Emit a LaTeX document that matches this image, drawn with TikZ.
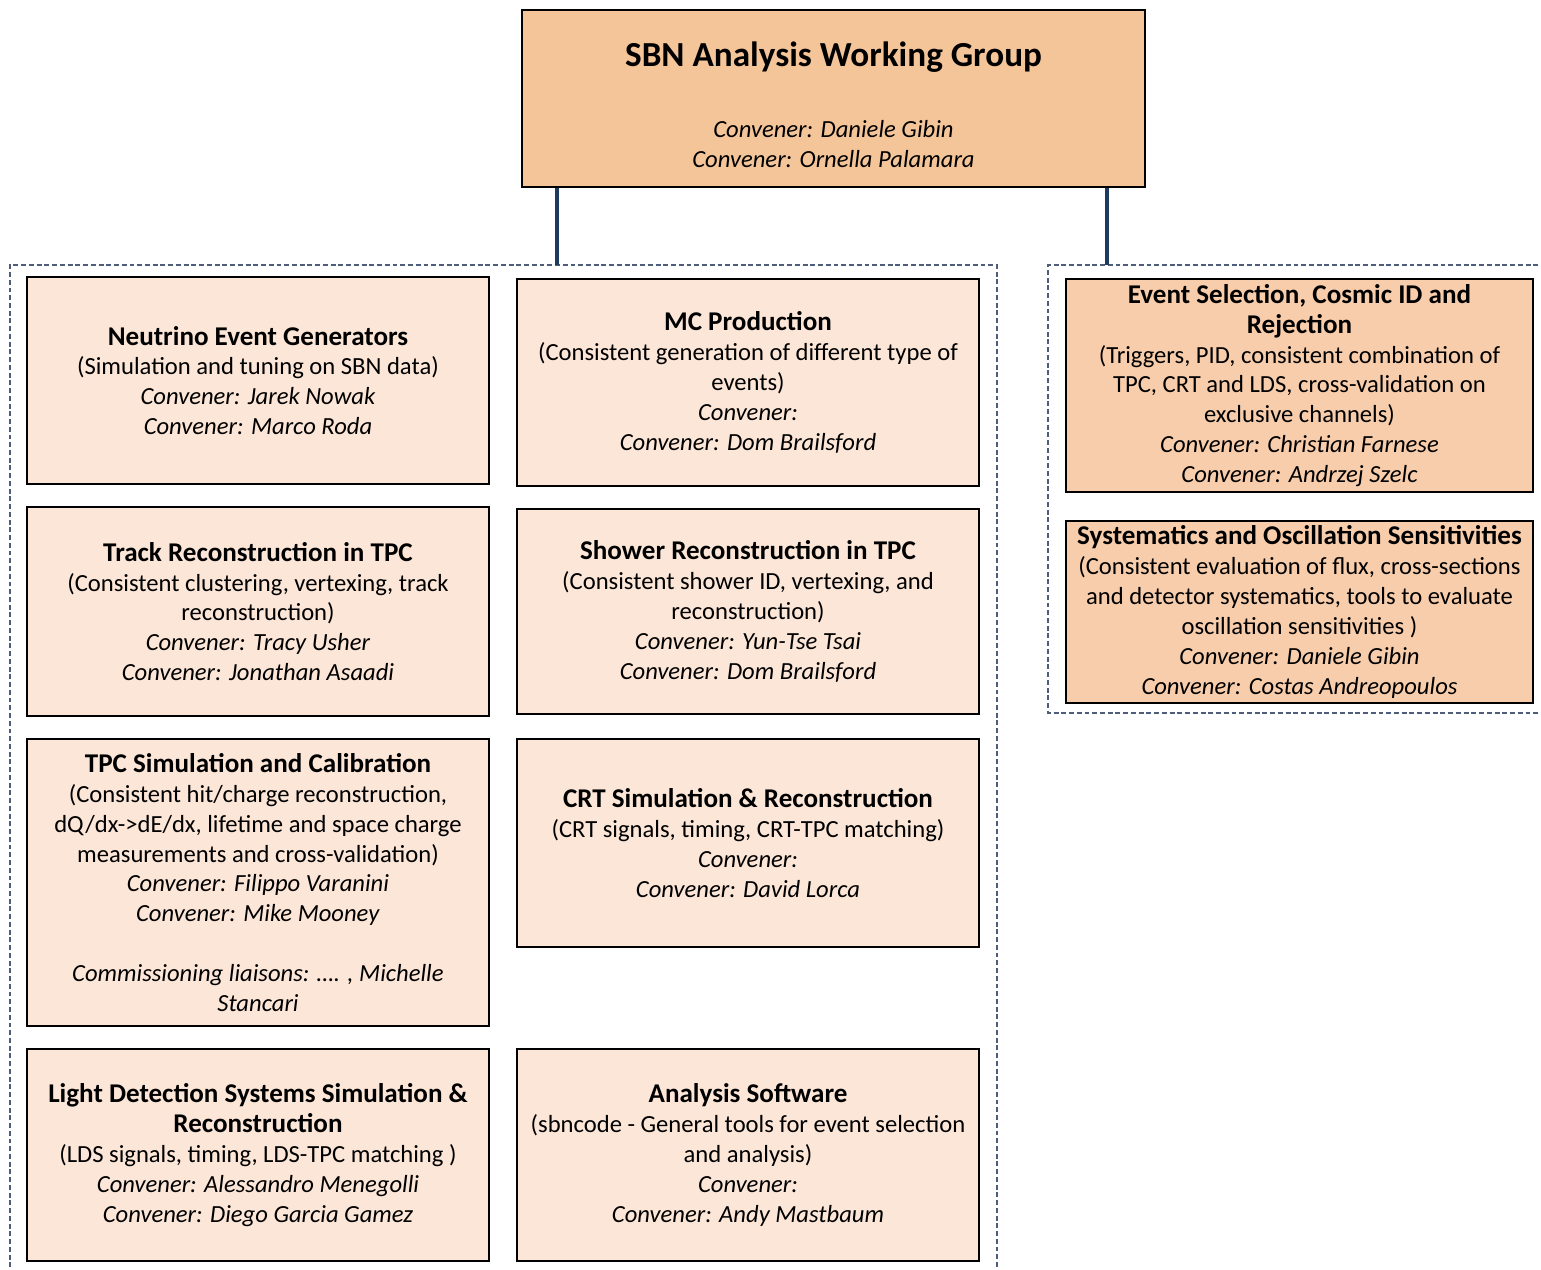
\documentclass[tikz,border=0pt]{standalone}
\usepackage{fontspec}
\setmainfont{Carlito}
\usepackage{xcolor}

\definecolor{peachdark}{HTML}{F5C59A}
\definecolor{peachmid}{HTML}{F8CDAB}
\definecolor{peachlight}{HTML}{FCE6D8}
\definecolor{navyline}{HTML}{1F3A5F}
\definecolor{framegray}{HTML}{4E5E7A}

\newcommand{\ttl}{\fontsize{7.7pt}{8.7pt}\selectfont\bfseries}
\newcommand{\cnv}[1]{\textit{Convener: #1}}

\begin{document}
\begin{tikzpicture}[x=0.01cm, y=-0.01cm,
  every node/.style={font=\fontsize{7pt}{8.5pt}\selectfont},
  wgbox/.style={draw=black, line width=0.6pt, fill=peachlight, align=center,
    inner sep=0pt, minimum width=4.62cm},
  anabox/.style={wgbox, fill=peachmid, minimum width=4.67cm},
  topbox/.style={wgbox, fill=peachdark, minimum width=6.23cm, minimum height=1.77cm},
  grpframe/.style={draw=framegray, line width=0.4pt, dash pattern=on 1.4pt off 0.8pt},
  link/.style={draw=navyline, line width=0.9pt}]

\useasboundingbox (0,0) rectangle (1541,1270);

% =================== top of the chart ===================
\node[topbox] (sbn) at (833.5,98.5)
  {\rule{0pt}{10.6pt}{\fontsize{10pt}{10pt}\selectfont\bfseries SBN Analysis Working Group}\\[11.5pt]
   \cnv{Daniele Gibin}\\ \cnv{Ornella Palamara}};

% dashed group frames (left one runs off the page)
\draw[grpframe] (10,1275) -- (10,265) -- (997,265) -- (997,1275);
\draw[grpframe] (1546,265) -- (1048,265) -- (1048,713) -- (1546,713);
\coordinate (lgrp) at (557,265);
\coordinate (rgrp) at (1107,265);

\draw[link] (sbn.south -| lgrp) -- (lgrp);
\draw[link] (sbn.south -| rgrp) -- (rgrp);

% =================== left group, first column ===================
\node[wgbox, minimum height=2.07cm] (gen) at (258,380.5)
  {{\ttl Neutrino Event Generators}\\
   (Simulation and tuning on SBN data)\\
   \cnv{Jarek Nowak}\\ \cnv{Marco Roda}};

\node[wgbox, minimum height=2.09cm] (trk) at (258,611.5)
  {{\ttl Track Reconstruction in TPC}\\
   (Consistent clustering, vertexing, track\\ reconstruction)\\
   \cnv{Tracy Usher}\\ \cnv{Jonathan Asaadi}};

\node[wgbox, minimum height=2.87cm] (tpc) at (258,882.5)
  {{\ttl TPC Simulation and Calibration}\\
   (Consistent hit/charge reconstruction,\\
   dQ/dx->dE/dx, lifetime and space charge\\
   measurements and cross-validation)\\
   \cnv{Filippo Varanini}\\ \cnv{Mike Mooney}\\[8.5pt]
   \textit{Commissioning liaisons: …. , Michelle}\\ \textit{Stancari}};

\node[wgbox, minimum height=2.12cm] (lds) at (258,1155)
  {{\ttl Light Detection Systems Simulation \&}\\ {\ttl Reconstruction}\\
   (LDS signals, timing, LDS-TPC matching )\\
   \cnv{Alessandro Menegolli}\\ \cnv{Diego Garcia Gamez}};

% =================== left group, second column ===================
\node[wgbox, minimum height=2.07cm] (mc) at (748,382.5)
  {{\ttl MC Production}\\
   (Consistent generation of different type of\\ events)\\
   \cnv{}\\ \cnv{Dom Brailsford}};

\node[wgbox, minimum height=2.05cm] (shw) at (748,611.5)
  {{\ttl Shower Reconstruction in TPC}\\
   (Consistent shower ID, vertexing, and\\ reconstruction)\\
   \cnv{Yun-Tse Tsai}\\ \cnv{Dom Brailsford}};

\node[wgbox, minimum height=2.08cm] (crt) at (748,843)
  {{\ttl CRT Simulation \& Reconstruction}\\
   (CRT signals, timing, CRT-TPC matching)\\
   \cnv{}\\ \cnv{David Lorca}};

\node[wgbox, minimum height=2.12cm] (sw) at (748,1155)
  {{\ttl Analysis Software}\\
   (sbncode - General tools for event selection\\ and analysis)\\
   \cnv{}\\ \cnv{Andy Mastbaum}};

% =================== right group ===================
\node[anabox, minimum height=2.13cm] (sel) at (1299.5,385.5)
  {{\ttl Event Selection, Cosmic ID and}\\ {\ttl Rejection}\\
   (Triggers, PID, consistent combination of\\
   TPC, CRT and LDS, cross-validation on\\
   exclusive channels)\\
   \cnv{Christian Farnese}\\ \cnv{Andrzej Szelc}};

\node[anabox, minimum height=1.82cm] (osc) at (1299.5,612)
  {{\ttl Systematics and Oscillation Sensitivities}\\
   (Consistent evaluation of flux, cross-sections\\
   and detector systematics, tools to evaluate\\
   oscillation sensitivities )\\
   \cnv{Daniele Gibin}\\ \cnv{Costas Andreopoulos}};

\end{tikzpicture}
\end{document}
